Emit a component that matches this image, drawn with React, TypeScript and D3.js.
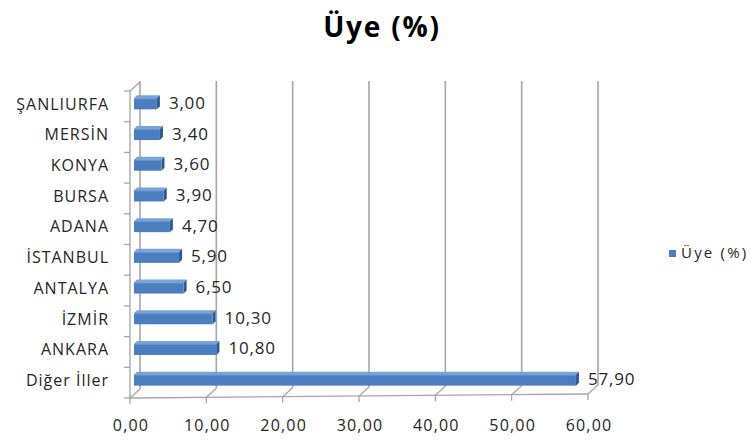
import React, { useEffect, useRef } from 'react';
import * as d3 from 'd3';

const categories = ['ŞANLIURFA', 'MERSİN', 'KONYA', 'BURSA', 'ADANA', 'İSTANBUL', 'ANTALYA', 'İZMİR', 'ANKARA', 'Diğer İller'];
const values = [3.0, 3.4, 3.6, 3.9, 4.7, 5.9, 6.5, 10.3, 10.8, 57.9];
const xTicks = [0, 10, 20, 30, 40, 50, 60];
const seriesName = 'Üye (%)';
const title = 'Üye (%)';

const W = 756;
const H = 442;
const FONT = '"Open Sans", "DejaVu Sans", sans-serif';
const TEXT = '#262626';

const App: React.FC = () => {
  const svgRef = useRef<SVGSVGElement>(null);

  useEffect(() => {
    if (!svgRef.current) return;
    const svg = d3.select(svgRef.current);
    svg.selectAll('*').remove();

    const x = d3.scaleLinear().domain([0, 60]).range([130, 588]);
    const y = d3.scaleBand<string>().domain(categories).range([91, 398]).padding(0);
    // floor is slightly tilted in the original 3d view
    const floorY = d3.scaleLinear().domain([0, 60]).range([398, 394]);
    const depth = { dx: 10, dy: -9 };
    const grid = '#a6a6a6';
    const fmt = (v: number) => d3.format('.2f')(v).replace('.', ',');

    // back wall gridlines
    svg.append('g')
      .selectAll('line')
      .data(xTicks)
      .join('line')
      .attr('x1', d => x(d) + depth.dx)
      .attr('x2', d => x(d) + depth.dx)
      .attr('y1', 81)
      .attr('y2', d => floorY(d) + depth.dy)
      .attr('stroke', grid)
      .attr('stroke-width', 1.6);

    // floor
    const floor = svg.append('g').attr('stroke', grid).attr('stroke-width', 1.3).attr('fill', 'none');
    floor.append('line')
      .attr('x1', x(0)).attr('y1', floorY(0))
      .attr('x2', x(60)).attr('y2', floorY(60));
    floor.selectAll('path.diag')
      .data(xTicks)
      .join('path')
      .attr('class', 'diag')
      .attr('d', d => `M${x(d)},${floorY(d) + 6}L${x(d)},${floorY(d)}L${x(d) + depth.dx},${floorY(d) + depth.dy}`);

    // left wall
    const wall = svg.append('g').attr('stroke', grid).attr('stroke-width', 1.3).attr('fill', 'none');
    wall.append('path')
      .attr('d', `M${x(0)},${floorY(0)}L${x(0)},${y.range()[0]}L${x(0) + depth.dx},${y.range()[0] + depth.dy}`);
    const edges = [...categories.map(c => y(c) as number), y.range()[1]];
    wall.selectAll('line.tick')
      .data(edges)
      .join('line')
      .attr('class', 'tick')
      .attr('x1', x(0) - 6)
      .attr('x2', x(0))
      .attr('y1', d => d)
      .attr('y2', d => d);

    // bars
    const bx = 4;
    const bd = 3;
    const bars = svg.append('g')
      .selectAll('g')
      .data(categories.map((c, i) => ({ c, v: values[i] })))
      .join('g');

    const yc = (c: string) => (y(c) as number) + y.bandwidth() / 2;

    bars.append('path')
      .attr('d', d => {
        const x0 = x(0) + bx, x1 = x(d.v) + bx, t = yc(d.c) - 8;
        return `M${x0},${t}L${x0 + bd},${t - bd}L${x1 + bd},${t - bd}L${x1},${t}Z`;
      })
      .attr('fill', '#7aa3d6');

    bars.append('path')
      .attr('d', d => {
        const x1 = x(d.v) + bx, t = yc(d.c) - 8, b = yc(d.c) + 3;
        return `M${x1},${t}L${x1 + bd},${t - bd}L${x1 + bd},${b - bd}L${x1},${b}Z`;
      })
      .attr('fill', '#2f5b92');

    bars.append('rect')
      .attr('x', x(0) + bx)
      .attr('y', d => yc(d.c) - 8)
      .attr('width', d => x(d.v) - x(0))
      .attr('height', 11)
      .attr('fill', '#4a7ebf');

    bars.append('line')
      .attr('x1', x(0) + bx)
      .attr('x2', d => x(d.v) + bx)
      .attr('y1', d => yc(d.c) - 7.5)
      .attr('y2', d => yc(d.c) - 7.5)
      .attr('stroke', '#6b98d0')
      .attr('stroke-width', 1);

    // value labels
    bars.append('text')
      .attr('x', d => x(d.v) + bx + 12)
      .attr('y', d => yc(d.c) - 2)
      .attr('dominant-baseline', 'middle')
      .attr('fill', TEXT)
      .style('font-family', FONT)
      .style('font-size', '17px')
      .style('letter-spacing', '0.8px')
      .text(d => fmt(d.v));

    // category labels
    svg.append('g')
      .selectAll('text')
      .data(categories)
      .join('text')
      .attr('x', 109)
      .attr('y', d => yc(d) - 1)
      .attr('text-anchor', 'end')
      .attr('dominant-baseline', 'middle')
      .attr('fill', TEXT)
      .style('font-family', FONT)
      .style('font-size', '16px')
      .style('letter-spacing', '1px')
      .text(d => d);

    // x tick labels
    svg.append('g')
      .selectAll('text')
      .data(xTicks)
      .join('text')
      .attr('x', d => x(d) + 1)
      .attr('y', 427)
      .attr('text-anchor', 'middle')
      .attr('dominant-baseline', 'middle')
      .attr('fill', TEXT)
      .style('font-family', FONT)
      .style('font-size', '16px')
      .style('letter-spacing', '1.2px')
      .text(d => fmt(d));

    // title
    svg.append('text')
      .attr('x', 382)
      .attr('y', 37)
      .attr('text-anchor', 'middle')
      .attr('fill', '#000')
      .style('font-family', FONT)
      .style('font-size', '28px')
      .style('font-weight', 'bold')
      .style('letter-spacing', '1.8px')
      .text(title);

    // legend
    const lg = svg.append('g');
    lg.append('rect')
      .attr('x', 669).attr('y', 250)
      .attr('width', 7).attr('height', 7)
      .attr('fill', '#4a7ebf');
    lg.append('text')
      .attr('x', 681)
      .attr('y', 254)
      .attr('dominant-baseline', 'middle')
      .attr('fill', TEXT)
      .style('font-family', FONT)
      .style('font-size', '15px')
      .style('letter-spacing', '2.2px')
      .text(seriesName);
  }, []);

  return (
    <svg
      ref={svgRef}
      width={W}
      height={H}
      style={{ position: 'absolute', left: 0, top: 0, background: '#fff' }}
    />
  );
};

export default App;
